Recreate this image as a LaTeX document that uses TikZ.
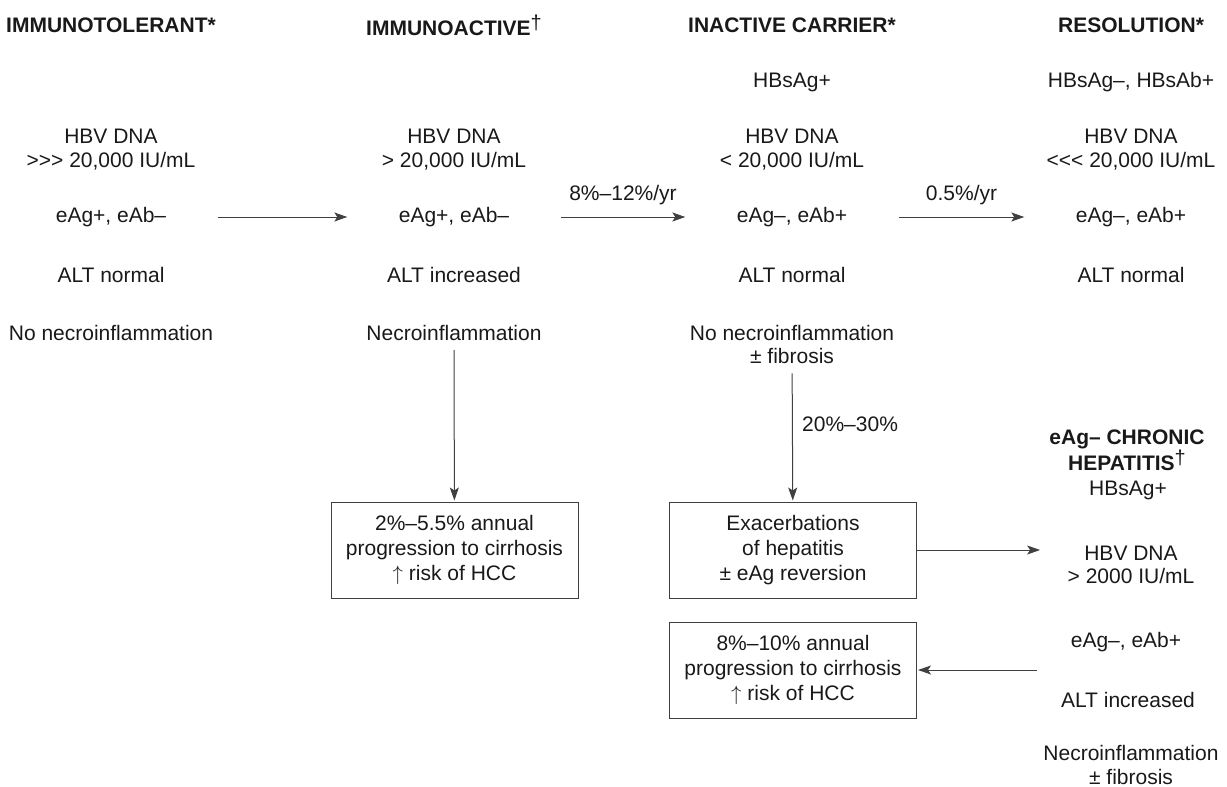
\documentclass[tikz,border=0pt]{standalone}
\usepackage{fontspec}
\setmainfont{Liberation Sans}
\usetikzlibrary{arrows.meta}
\newcommand{\dagmark}{\raisebox{6pt}{\fontsize{20}{20}\selectfont\mdseries †}}
\begin{document}
\begin{tikzpicture}[x=1pt,y=-1pt]
  \useasboundingbox (0,0) rectangle (1227,787);
  % phase columns
  \begin{scope}[every node/.style={font=\fontsize{21}{23.5}\selectfont,align=center,text=black!90}]
  \node (tol-h) at (111,25) {\textbf{IMMUNOTOLERANT*}};
  \node (tol-dna) at (111,149.5) {HBV DNA\\>{}>{}> 20,000 IU/mL};
  \node (tol-eag) at (111,217) {eAg+, eAb–};
  \node (tol-alt) at (111,275) {ALT normal};
  \node (tol-nec) at (111,333) {No necroinflammation};
  \node (act-h) at (454,25) {\textbf{IMMUNOACTIVE}\dagmark};
  \node (act-dna) at (454,149.5) {HBV DNA\\> 20,000 IU/mL};
  \node (act-eag) at (454,217) {eAg+, eAb–};
  \node (act-alt) at (454,275) {ALT increased};
  \node (act-nec) at (454,333) {Necroinflammation};
  \node (car-h) at (792,25) {\textbf{INACTIVE CARRIER*}};
  \node (car-hbs) at (792,82) {HBsAg+};
  \node (car-dna) at (792,149.5) {HBV DNA\\< 20,000 IU/mL};
  \node (car-eag) at (792,217) {eAg–, eAb+};
  \node (car-alt) at (792,275) {ALT normal};
  \node (car-nec) at (792,344.5) {No necroinflammation\\± fibrosis};
  \node (res-h) at (1131,25) {\textbf{RESOLUTION*}};
  \node (res-hbs) at (1131,82) {HBsAg–, HBsAb+};
  \node (res-dna) at (1131,149.5) {HBV DNA\\<{}<{}< 20,000 IU/mL};
  \node (res-eag) at (1131,217) {eAg–, eAb+};
  \node (res-alt) at (1131,275) {ALT normal};
  \node (neg-h) at (1127,450) {\textbf{eAg– CHRONIC}\\\textbf{HEPATITIS}\dagmark};
  \node (neg-hbs) at (1128,490) {HBsAg+};
  \node (neg-dna) at (1131,565) {HBV DNA\\> 2000 IU/mL};
  \node (neg-eag) at (1126,642) {eAg–, eAb+};
  \node (neg-alt) at (1128,700) {ALT increased};
  \node (neg-nec) at (1131,765) {Necroinflammation\\± fibrosis};
  \end{scope}
  % outcome boxes
  \begin{scope}[every node/.style={draw=black!75,line width=1pt,minimum width=247pt,minimum height=96pt,
      font=\fontsize{21}{25}\selectfont,align=center,text=black!90}]
  \node (act-box) at (454.5,550) {2\%–5.5\% annual\\progression to cirrhosis\\$\uparrow$ risk of HCC};
  \node (car-box) at (793,550) {Exacerbations\\of hepatitis\\± eAg reversion};
  \node (neg-box) at (793,670) {8\%–10\% annual\\progression to cirrhosis\\$\uparrow$ risk of HCC};
  \end{scope}
  \coordinate (neg-end) at (1037,670);
  \begin{scope}[every edge/.style={draw=black!75,line width=1pt,-{Stealth[length=13pt,width=9pt,inset=3pt]}},
      every node/.style={font=\fontsize{21}{23.5}\selectfont,text=black!90}]
  \path (tol-eag) edge[shorten <=48pt,shorten >=48pt] (act-eag);
  \path (act-eag) edge[shorten <=48pt,shorten >=48pt] node[above=8pt] {8\%–12\%/yr} (car-eag);
  \path (car-eag) edge[shorten <=48pt,shorten >=48pt] node[above=8pt] {0.5\%/yr} (res-eag);
  \path (act-nec) edge[shorten <=6pt,shorten >=1pt] (act-box);
  \path (car-nec) edge[shorten <=6pt,shorten >=1pt] node[pos=0.42,right=6pt] {20\%–30\%} (car-box);
  \path (car-box.east) edge[shorten >=24pt] (car-box.east -| neg-dna.west);
  \path (neg-end) edge[shorten >=1pt] (neg-box.east);
  \end{scope}
\end{tikzpicture}
\end{document}
